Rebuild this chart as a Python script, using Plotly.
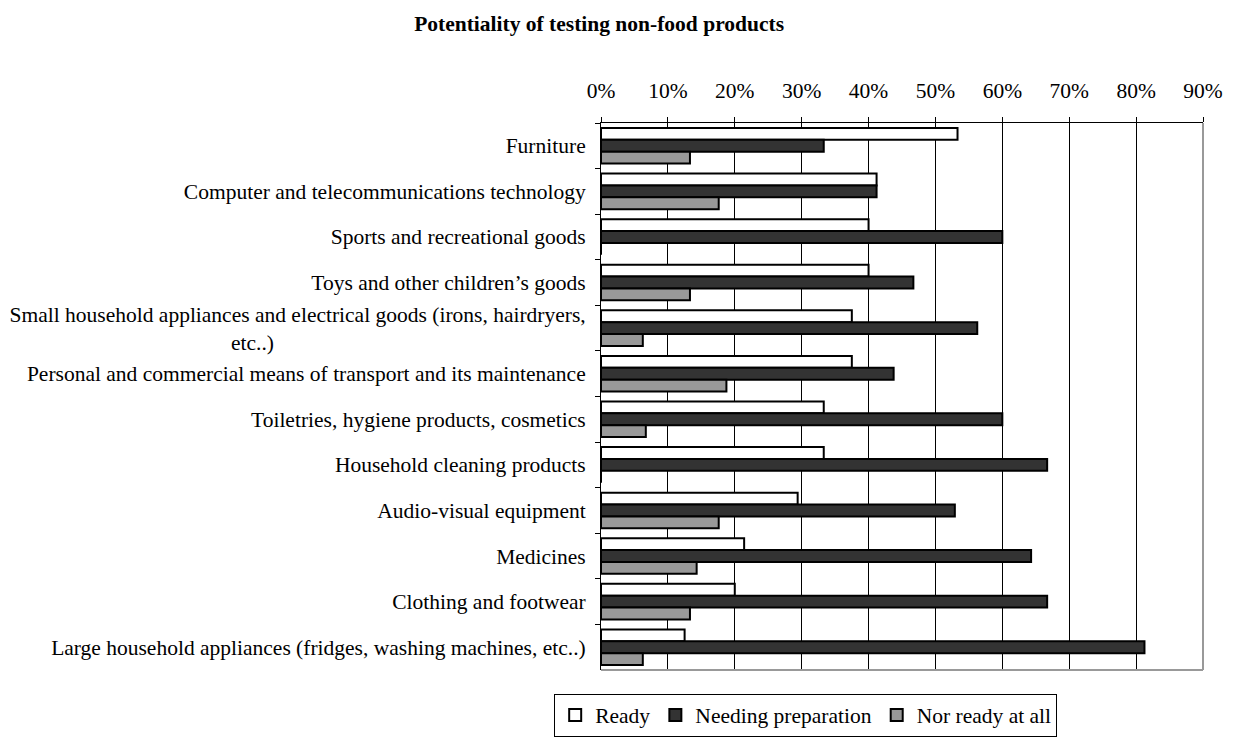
import plotly.graph_objects as go

categories = [
    "Furniture",
    "Computer and telecommunications technology",
    "Sports and recreational goods",
    "Toys and other children\u2019s goods",
    "Small household appliances and electrical goods (irons, hairdryers,<br>etc..)" + "&nbsp;" * 58,
    "Personal and commercial means of transport and its maintenance",
    "Toiletries, hygiene products, cosmetics",
    "Household cleaning products",
    "Audio-visual equipment",
    "Medicines",
    "Clothing and footwear",
    "Large household appliances (fridges, washing machines, etc..)",
]
ready = [53.3, 41.2, 40.0, 40.0, 37.5, 37.5, 33.3, 33.3, 29.4, 21.4, 20.0, 12.5]
needing = [33.3, 41.2, 60.0, 46.7, 56.25, 43.75, 60.0, 66.7, 52.9, 64.3, 66.7, 81.25]
not_ready = [13.3, 17.6, 0.0, 13.3, 6.25, 18.75, 6.7, 0.0, 17.6, 14.3, 13.3, 6.25]

series = [
    ("Ready", ready, "#ffffff"),
    ("Needing preparation", needing, "#333333"),
    ("Nor ready at all", not_ready, "#999999"),
]

FONT = "Liberation Serif, Times New Roman, serif"
FS = 21.5

fig = go.Figure()
for name, vals, color in series:
    fig.add_trace(go.Bar(
        name=name,
        y=categories,
        x=[v / 100 for v in vals],
        orientation="h",
        marker=dict(color=color, line=dict(color="#000000", width=2)),
    ))

fig.update_layout(
    width=1234, height=740,
    margin=dict(l=593, r=39, t=115, b=60),
    paper_bgcolor="white", plot_bgcolor="white",
    barmode="group", bargap=0.22, bargroupgap=0,
    font=dict(family=FONT, size=FS, color="#000000"),
    title=dict(
        text="<b>Potentiality of testing non-food products</b>",
        x=0.479, xanchor="center", xref="container",
        y=1 - 15 / 740, yanchor="middle", yref="container",
        font=dict(family=FONT, size=FS, color="#000000"),
    ),
    showlegend=True,
    legend=dict(
        orientation="h", x=0.34, xanchor="center", y=-0.043, yanchor="top",
        bordercolor="#000000", borderwidth=1,
        font=dict(family=FONT, size=FS),
        traceorder="normal", itemwidth=30,
    ),
)

fig.update_xaxes(
    side="top", range=[0, 0.9], dtick=0.1, tick0=0, tickformat=".0%",
    showgrid=True, gridcolor="#000000", gridwidth=1,
    showline=True, linecolor="#000000", linewidth=1,
    ticks="outside", ticklen=5, tickcolor="#000000",
    ticklabelstandoff=10, zeroline=False, automargin=False,
)
fig.update_yaxes(
    type="category", categoryorder="array", categoryarray=categories,
    autorange="reversed", tickson="boundaries",
    showgrid=False, showline=True, linecolor="#000000", linewidth=1,
    ticks="outside", ticklen=5, tickcolor="#000000",
    ticklabelstandoff=10, zeroline=False, automargin=False,
)

# chart frame: grey right and bottom edges
fig.add_shape(type="line", xref="paper", yref="paper", x0=1, x1=1, y0=0, y1=1,
              line=dict(color="#999999", width=2))
fig.add_shape(type="line", xref="paper", yref="paper", x0=0, x1=1, y0=0, y1=0,
              line=dict(color="#999999", width=2))

fig.write_html("out.html")
